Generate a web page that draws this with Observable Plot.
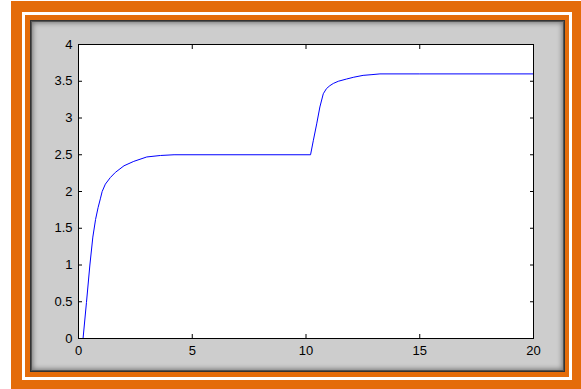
<!DOCTYPE html>
<html><head><meta charset="utf-8">
<script src="https://cdn.jsdelivr.net/npm/d3@7"></script>
<script src="https://cdn.jsdelivr.net/npm/@observablehq/plot@0.6"></script>
<style>
html,body{margin:0;padding:0;background:#fff;}
#wrap{position:relative;width:581px;height:389px;overflow:hidden;}
.b{position:absolute;box-sizing:border-box;}
#o1{left:11px;top:1px;width:570px;height:388px;background:#E46C0A;}
#w1{left:22px;top:12px;width:550px;height:368px;border:3px solid #fff;}
#panel{left:30px;top:20px;width:535px;height:352px;background:#CDCDCD;border:1px solid #333;box-shadow: inset 0 0 0 1px #555, inset 0 0 5px 2px #777;}
#chart{position:absolute;left:0;top:0;}
</style></head>
<body>
<div id="wrap">
  <div class="b" id="o1"></div>
  <div class="b" id="w1"></div>
  <div class="b" id="panel"></div>
  <div id="chart"></div>
</div>
<script>
// time (s) and response values
const times  = [0, 0.2, 0.35, 0.5, 0.63, 0.75, 0.86, 0.96, 1.04, 1.18, 1.4, 1.62, 2.0, 2.43, 3.0, 3.6, 4.2, 10.2, 10.32, 10.47, 10.61, 10.76, 10.9, 11.05, 11.2, 11.42, 11.78, 12.1, 12.51, 12.9, 13.25, 15, 20];
const values = [0, 0, 0.49, 1.0, 1.38, 1.62, 1.78, 1.90, 2.0, 2.10, 2.19, 2.26, 2.35, 2.41, 2.47, 2.49, 2.5, 2.5, 2.69, 2.92, 3.15, 3.33, 3.40, 3.44, 3.47, 3.50, 3.53, 3.555, 3.58, 3.59, 3.60, 3.6, 3.6];
const xTicks = [0, 5, 10, 15, 20];
const yTicks = [0, 0.5, 1, 1.5, 2, 2.5, 3, 3.5, 4];

const data = times.map((t, i) => ({t, v: values[i]}));

const svg = Plot.plot({
  width: 581, height: 389,
  marginLeft: 78, marginRight: 48, marginTop: 44, marginBottom: 51,
  style: {background: "transparent", fontFamily: "'Liberation Sans', Arial, sans-serif", fontSize: "13px", color: "#000", overflow: "visible"},
  x: {domain: [0, 20]},
  y: {domain: [0, 4]},
  marks: [
    Plot.frame({fill: "white", stroke: "none"}),
    Plot.line(data, {x: "t", y: "v", stroke: "#0000ff", strokeWidth: 1}),
    Plot.axisX(xTicks, {anchor: "bottom", tickSize: -4, tickPadding: 11, label: null, tickFormat: d => String(d)}),
    Plot.axisX(xTicks, {anchor: "top", tickSize: -4, label: null, tickFormat: () => ""}),
    Plot.axisY(yTicks, {anchor: "left", tickSize: -4, tickPadding: 10, label: null, tickFormat: d => String(d)}),
    Plot.axisY(yTicks, {anchor: "right", tickSize: -4, label: null, tickFormat: () => ""}),
    Plot.frame({stroke: "#000"})
  ]
});
document.getElementById("chart").appendChild(svg);
</script>
</body></html>
